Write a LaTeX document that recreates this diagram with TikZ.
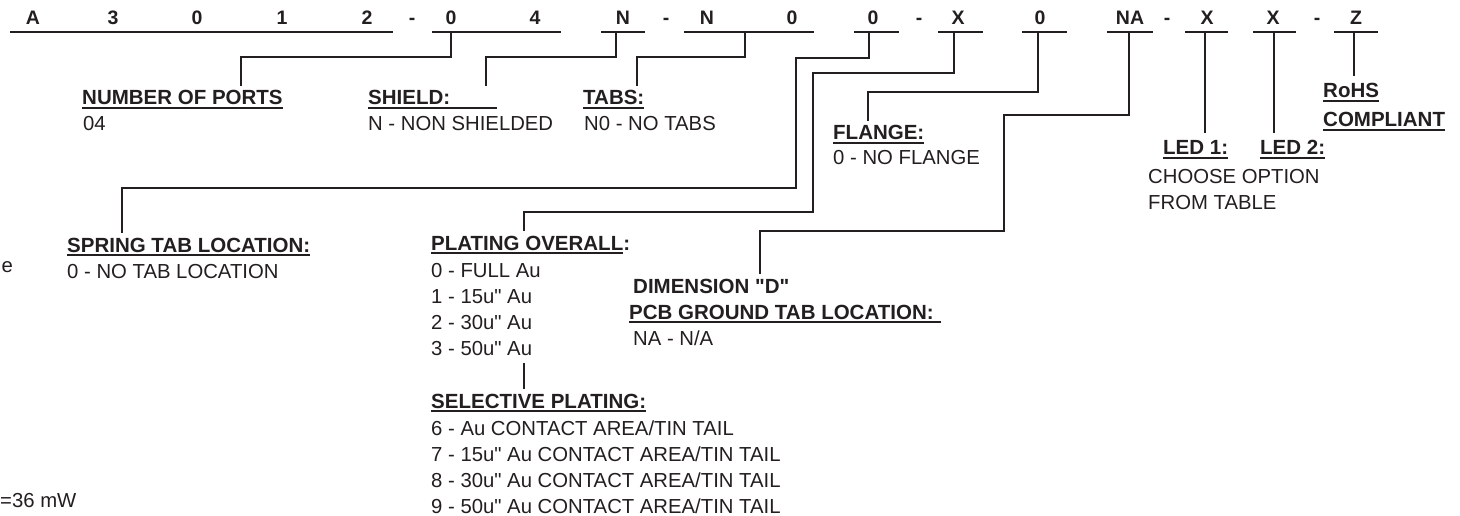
\documentclass[tikz,border=0pt]{standalone}
\usepackage{fontspec}
\setmainfont{Liberation Sans}[Ligatures=TeXOff]
\definecolor{ink}{HTML}{231F20}
\newcommand\ulw[2]{\rlap{\rule[-4pt]{#1}{1.8pt}}#2}
\newcommand\ulb[1]{\setbox0=\hbox{#1}\rlap{\rule[-4pt]{\wd0}{1.8pt}}\box0}
\begin{document}
\begin{tikzpicture}[x=1pt,y=-1pt,
  code/.style={anchor=base,inner sep=0pt,font=\fontsize{19.5}{20}\selectfont\bfseries,text=ink},
  head/.style={anchor=base west,inner sep=0pt,outer ysep=5pt,font=\fontsize{20.5}{24}\selectfont\bfseries,text=ink},
  txt/.style={anchor=base west,inner sep=0pt,font=\fontsize{20.3}{24}\selectfont,text=ink},
  conn/.style={draw=ink,line width=2pt},
  bar/.style={draw=ink,line width=2pt}]
\useasboundingbox[fill=white] (0,0) rectangle (1460,516);

% code row
\foreach \x/\t/\n in {33/A/c1,113/3/c2,197/0/c3,282/1/c4,367/2/c5,412/-/d1,451/0/c6,535/4/c7,623/N/c8,666/-/d2,707/N/c9,792/0/c10,873/0/c11,919/-/d3,958/X/c12,1040/0/c13,1130/NA/c14,1167/-/d4,1207/X/c15,1273/X/c16,1317/-/d5,1356/Z/c17}
  \node[code] (\n) at (\x,25) {\t};
\foreach \a/\b in {10/393,432/561,601/645,684/814,854/899,938/983,1022/1067,1107/1153,1185/1228,1253/1296,1334/1378}
  \draw[bar] (\a,32) -- (\b,32);
\coordinate (g2) at (451,32);
\coordinate (g3) at (616,32);
\coordinate (g4) at (745,32);
\coordinate (g5) at (869,32);
\coordinate (g6) at (954,32);
\coordinate (g7) at (1038,32);
\coordinate (g8) at (1129,32);
\coordinate (g9) at (1205,32);
\coordinate (g10) at (1274,32);
\coordinate (g11) at (1354,32);

% headings and texts
\node[head] (nop) at (82,105) {\ulb{NUMBER OF PORTS}};
\node[txt] (nopt) at (83,131) {04};
\node[head] (shd) at (368,105) {\ulw{129pt}{SHIELD:}};
\node[txt] (shdt) at (368,131) {N - NON SHIELDED};
\node[head] (tab) at (583,105) {\ulb{TABS:}};
\node[txt] (tabt) at (584,131) {N0 - NO TABS};
\node[head] (flg) at (833,140) {\ulb{FLANGE:}};
\node[txt] (flgt) at (833,165) {0 - NO FLANGE};
\node[head] (spr) at (67,252) {\ulb{SPRING TAB LOCATION:}};
\node[txt] (sprt) at (67,278) {0 - NO TAB LOCATION};
\node[head] (pla) at (431,250) {\ulb{PLATING OVERALL}:};
\node[txt] (p0) at (431,277) {0 - FULL Au};
\node[txt] (p1) at (431,303) {1 - 15u" Au};
\node[txt] (p2) at (431,329) {2 - 30u" Au};
\node[txt] (p3) at (431,355) {3 - 50u" Au};
\node[head] (sel) at (431,408) {\ulb{SELECTIVE PLATING:}};
\node[txt] (s6) at (431,435) {6 - Au CONTACT AREA/TIN TAIL};
\node[txt] (s7) at (431,461) {7 - 15u" Au CONTACT AREA/TIN TAIL};
\node[txt] (s8) at (431,487) {8 - 30u" Au CONTACT AREA/TIN TAIL};
\node[txt] (s9) at (431,513) {9 - 50u" Au CONTACT AREA/TIN TAIL};
\node[head] (dim) at (633,293) {DIMENSION "D"};
\node[head] (pcb) at (629,319) {\ulw{312pt}{PCB GROUND TAB LOCATION:}};
\node[txt] (dimt) at (633,345) {NA - N/A};
\node[head,outer ysep=8pt] (led1) at (1163,155) {\ulb{LED 1:}};
\node[head,outer ysep=8pt] (led2) at (1260,155) {\ulb{LED 2:}};
\node[txt] (ledt1) at (1148,183) {CHOOSE OPTION};
\node[txt] (ledt2) at (1148,209) {FROM TABLE};
\node[head,outer ysep=8pt] (rohs) at (1323,98) {\ulb{RoHS}};
\node[head] (comp) at (1323,127) {\ulb{COMPLIANT}};
\node[txt] (ecut) at (1.5,272) {e};
\node[txt] (mw) at (0,507) {=36 mW};

% connectors
\draw[conn] (g2) |- (241,57) -- (241,0 |- nop.north);
\draw[conn] (g3) |- (486,57) -- (486,0 |- shd.north);
\draw[conn] (g4) |- (637,57) -- (637,0 |- tab.north);
\draw[conn] (g5) |- (796,58) |- (122,188) -- (122,0 |- spr.north);
\draw[conn] (g6) |- (813,73) |- (524,212) -- (524,0 |- pla.north);
\draw[conn] (g7) |- (868,92) -- (868,0 |- flg.north);
\draw[conn] (g8) |- (1004,115) |- (760,231) -- (760,0 |- dim.north);
\draw[conn] (g9) -- (1205,0 |- led1.north);
\draw[conn] (g10) -- (1274,0 |- led2.north);
\draw[conn] (g11) -- (1354,0 |- rohs.north);
\draw[conn] ([yshift=-8pt]524,0 |- p3.south) -- (524,0 |- sel.north);
\end{tikzpicture}
\end{document}
